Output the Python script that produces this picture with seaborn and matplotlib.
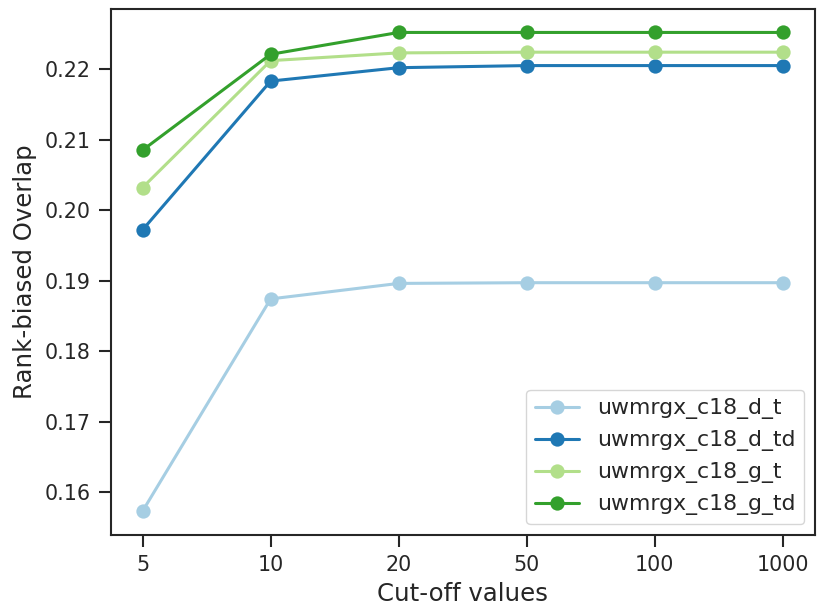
import numpy as np
import pandas as pd
import matplotlib
matplotlib.use("Agg")
import matplotlib.pyplot as plt
import seaborn as sns

# Data
CUTOFFS = ["5", "10", "20", "50", "100", "1000"]
RUN_NAMES = ["uwmrgx_c18_d_t", "uwmrgx_c18_d_td", "uwmrgx_c18_g_t", "uwmrgx_c18_g_td"]
D_T = [0.1573, 0.1874, 0.1896, 0.1897, 0.1897, 0.1897]
D_TD = [0.1972, 0.2183, 0.2202, 0.2205, 0.2205, 0.2205]
G_T = [0.2032, 0.2212, 0.2223, 0.2224, 0.2224, 0.2224]
G_TD = [0.2085, 0.2221, 0.2252, 0.2252, 0.2252, 0.2252]

sns.set_theme(style="ticks", context="notebook", font_scale=1.35)
plt.rcParams["font.family"] = ["DejaVu Sans"]
plt.rcParams.update({
    "axes.linewidth": 1.5,
    "axes.labelsize": 17.6,
    "xtick.labelsize": 14.85,
    "ytick.labelsize": 14.85,
    "xtick.major.size": 8.5,
    "ytick.major.size": 8.5,
    "xtick.major.width": 1.5,
    "ytick.major.width": 1.5,
    "xtick.major.pad": 6,
    "ytick.major.pad": 6,
    "legend.fontsize": 15.8,
})

df = pd.DataFrame({
    "Cut-off values": CUTOFFS * 4,
    "Rank-biased Overlap": D_T + D_TD + G_T + G_TD,
    "Run": np.repeat(RUN_NAMES, len(CUTOFFS)),
})

fig, ax = plt.subplots(figsize=(8.19, 6.08), dpi=100)
sns.lineplot(
    data=df,
    x="Cut-off values",
    y="Rank-biased Overlap",
    hue="Run",
    palette=sns.color_palette("Paired", 4),
    marker="o",
    markersize=10.3,
    markeredgewidth=0,
    linewidth=2.2,
    ax=ax,
)

ax.yaxis.labelpad = 5
ax.xaxis.labelpad = 5
ax.legend(loc="lower right", frameon=True, borderaxespad=0.5)
fig.subplots_adjust(left=0.135, right=0.995, top=0.986, bottom=0.12)
fig.savefig("out.png", dpi=100)
